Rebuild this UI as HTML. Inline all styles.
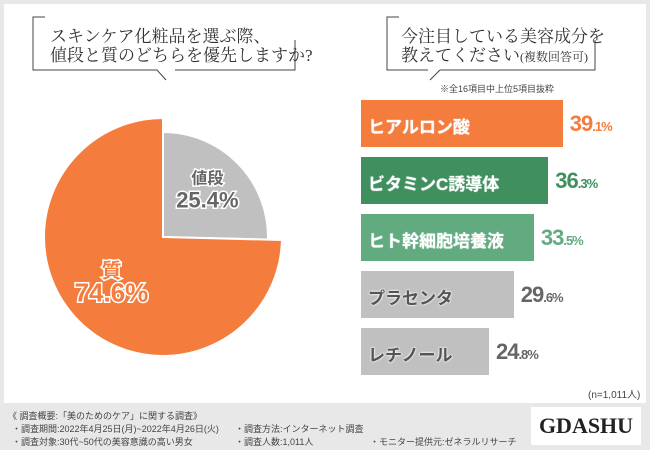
<!DOCTYPE html>
<html><head><meta charset="utf-8"><style>
body{margin:0;width:650px;height:450px;background:#e8e8e8;font-family:"Liberation Sans","Noto Sans CJK JP",sans-serif;overflow:hidden;position:relative}
.panel{position:absolute;left:4px;top:4px;width:642px;height:399px;background:#fff}
.q{position:absolute;font-family:"Liberation Serif","Noto Serif CJK SC",serif;font-size:17px;line-height:19px;color:#333}
.ft{position:absolute;font-size:9px;color:#444;white-space:nowrap}
.bl{position:absolute;font-size:17px;font-weight:bold;color:#fff;white-space:nowrap}
.val{position:absolute;font-size:22px;font-weight:bold;white-space:nowrap;letter-spacing:-1px}
.val small{font-size:13px}
</style></head><body>
<div class="panel"></div>
<svg width="650" height="450" style="position:absolute;left:0;top:0">
<path d="M45,17 H33 V70 H157 L166,80 M175,70 H295 V40" fill="none" stroke="#444" stroke-width="1"/>
<path d="M399,17 H387 V70 H428 M440,70 H595 V40 M440,70 L430,80" fill="none" stroke="#444" stroke-width="1"/>
<g id="pie"></g>
</svg>
<div class="q" style="left:50px;top:27px">スキンケア化粧品を選ぶ際、<br>値段と質のどちらを優先しますか?</div>
<div class="q" style="left:401px;top:27px">今注目している美容成分を<br>教えてください<span style="font-size:12px">(複数回答可)</span></div>
<div class="ft" style="left:440px;top:82px;font-size:9px">※全16項目中上位5項目抜粋</div>
<div id="bars"></div>
<div class="ft" style="left:588px;top:386px;font-size:10px">(n=1,011人)</div>
<div class="ft" style="left:8px;top:409px">《 調査概要:「美のためのケア」に関する調査》</div>
<div class="ft" style="left:12px;top:422px">・調査期間:2022年4月25日(月)~2022年4月26日(火)</div>
<div class="ft" style="left:235px;top:422px">・調査方法:インターネット調査</div>
<div class="ft" style="left:12px;top:435px">・調査対象:30代~50代の美容意識の高い男女</div>
<div class="ft" style="left:235px;top:435px">・調査人数:1,011人</div>
<div class="ft" style="left:370px;top:435px">・モニター提供元:ゼネラルリサーチ</div>
<div style="position:absolute;left:531px;top:407px;width:110px;height:38px;background:#fff;font-family:'Liberation Serif',serif;font-weight:bold;font-size:22px;color:#222;text-align:center;line-height:38px">GDASHU</div>
<script>
const pieLabels=["値段","質"];
const pieValues=[25.4,74.6];
const barLabels=["ヒアルロン酸","ビタミンC誘導体","ヒト幹細胞培養液","プラセンタ","レチノール"];
const barValues=[39.1,36.3,33.5,29.6,24.8];
const barColors=["#f47d3e","#3f8f5f","#62ab80","#c0c0c0","#c0c0c0"];
const valColors=["#f47d3e","#3f8f5f","#62ab80","#666","#666"];
const NS="http://www.w3.org/2000/svg";
const g=document.getElementById('pie');
const cx=163,cy=237;
function pt(r,a){return [cx+r*Math.sin(a),cy-r*Math.cos(a)];}
const tot=pieValues.reduce((a,b)=>a+b,0);
let a0=0;
pieValues.forEach((v,i)=>{
 const a1=a0+v/tot*2*Math.PI;
 const r=i===0?105:119;
 const p0=pt(r,a0),p1=pt(r,a1);
 const p=document.createElementNS(NS,'path');
 p.setAttribute('d',`M${cx},${cy} L${p0[0]},${p0[1]} A${r},${r} 0 ${a1-a0>Math.PI?1:0} 1 ${p1[0]},${p1[1]} Z`);
 p.setAttribute('fill',i===0?'#c0c0c0':'#f47d3e');
 p.setAttribute('stroke','#fff');p.setAttribute('stroke-width','2');
 
 
 g.appendChild(p);
 const mid=(a0+a1)/2, lr=i===0?62:72;
 const lp=pt(lr,mid);
 [[pieLabels[i],-10,i===0?16:20],[v.toFixed(1)+'%',14,i===0?22:26]].forEach((t,j)=>{
  const tx=document.createElementNS(NS,'text');
  tx.setAttribute('x',lp[0]);tx.setAttribute('y',lp[1]+t[1]);
  tx.setAttribute('text-anchor','middle');tx.setAttribute('font-size',t[2]);
  tx.setAttribute('font-weight','bold');
  tx.setAttribute('fill',i===0?'#666':'#f47d3e');
  tx.setAttribute('stroke','#fff');tx.setAttribute('stroke-width','3');tx.setAttribute('paint-order','stroke');
  tx.textContent=t[0];
  
  
  g.appendChild(tx);
 });
 a0=a1;
});
const bars=document.getElementById('bars');
const x0=361,scale=5.16,y0=100,step=57,bh=47;
barValues.forEach((v,i)=>{
 const w=v*scale,y=y0+i*step;
 const b=document.createElement('div');
 b.style.cssText=`position:absolute;left:${x0}px;top:${y}px;width:${w}px;height:${bh}px;background:${barColors[i]}`;
 
 
 bars.appendChild(b);
 const l=document.createElement('div');
 l.className='bl';l.style.left=(x0+7)+'px';l.style.top=(y+13)+'px';
 l.style.textShadow=i>=3?'0 0 2px #fff,0 0 2px #fff':'0 0 1px #fff';
 l.style.color=i>=3?'#555':'#fff';
 l.textContent=barLabels[i];
 
 
 bars.appendChild(l);
 const t=document.createElement('div');
 t.className='val';t.style.left=(x0+w+7)+'px';t.style.top=(y+11)+'px';t.style.color=valColors[i];
 const s=v.toFixed(1).split('.');
 t.innerHTML=s[0]+'<small>.'+s[1]+'%</small>';
 
 
 bars.appendChild(t);
});
</script>
</body></html>
